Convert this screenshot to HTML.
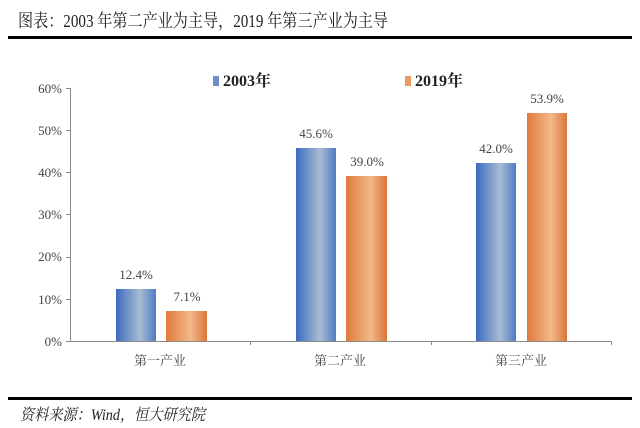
<!DOCTYPE html><html><head><meta charset="utf-8"><style>body{margin:0;background:#fff}svg{display:block}</style></head><body>
<svg width="640" height="428" xmlns="http://www.w3.org/2000/svg" font-family="Liberation Serif, Noto Serif CJK SC, serif">
<defs>
<linearGradient id="b" x1="0" x2="1"><stop offset="0" stop-color="#3a6bc0"/><stop offset="0.6" stop-color="#a9bcd2"/><stop offset="1" stop-color="#4f7cc4"/></linearGradient>
<linearGradient id="o" x1="0" x2="1"><stop offset="0" stop-color="#e07a3c"/><stop offset="0.6" stop-color="#f2b98a"/><stop offset="1" stop-color="#d9763a"/></linearGradient>
</defs>
<text x="18" y="27" font-size="18" fill="#222" textLength="370" lengthAdjust="spacingAndGlyphs">图表：2003 年第二产业为主导，2019 年第三产业为主导</text>
<rect x="8" y="36" width="624" height="3" fill="#000"/>
<g font-size="13" fill="#444" text-anchor="end">
<text x="62" y="93">60%</text><text x="62" y="135">50%</text><text x="62" y="177">40%</text><text x="62" y="219">30%</text><text x="62" y="261">20%</text><text x="62" y="304">10%</text><text x="62" y="346">0%</text></g>
<g stroke="#888" stroke-width="1"><line x1="70.5" y1="88" x2="70.5" y2="341"/><line x1="70" y1="341.5" x2="612" y2="341.5"/>
<line x1="66" y1="88.5" x2="70" y2="88.5"/><line x1="66" y1="130.5" x2="70" y2="130.5"/><line x1="66" y1="172.5" x2="70" y2="172.5"/><line x1="66" y1="214.5" x2="70" y2="214.5"/><line x1="66" y1="257.5" x2="70" y2="257.5"/><line x1="66" y1="299.5" x2="70" y2="299.5"/><line x1="66" y1="341.5" x2="70" y2="341.5"/>
<line x1="250.5" y1="341" x2="250.5" y2="345"/><line x1="431.5" y1="341" x2="431.5" y2="345"/><line x1="611.5" y1="341" x2="611.5" y2="345"/></g>
<rect x="116" y="289" width="40" height="52" fill="url(#b)"/><rect x="166" y="311" width="41" height="30" fill="url(#o)"/>
<rect x="296" y="148" width="40" height="193" fill="url(#b)"/><rect x="346" y="176" width="41" height="165" fill="url(#o)"/>
<rect x="476" y="163" width="40" height="178" fill="url(#b)"/><rect x="527" y="113" width="40" height="228" fill="url(#o)"/>
<g font-size="13" fill="#444" text-anchor="middle">
<text x="136" y="279">12.4%</text><text x="187" y="301">7.1%</text>
<text x="316" y="138">45.6%</text><text x="367" y="166">39.0%</text>
<text x="496" y="153">42.0%</text><text x="547" y="103">53.9%</text>
<text x="160" y="365">第一产业</text><text x="340" y="365">第二产业</text><text x="521" y="365">第三产业</text></g>
<rect x="213" y="76" width="6" height="10" fill="#6d8fc4"/><text x="223" y="86" font-size="16" font-weight="bold" fill="#222">2003年</text>
<rect x="405" y="76" width="6" height="10" fill="#e99a64"/><text x="415" y="86" font-size="16" font-weight="bold" fill="#222">2019年</text>
<rect x="8" y="397" width="624" height="3" fill="#000"/>
<text x="20" y="420" font-size="16" font-style="italic" fill="#222" textLength="185" lengthAdjust="spacingAndGlyphs">资料来源：Wind，恒大研究院</text>
</svg></body></html>
